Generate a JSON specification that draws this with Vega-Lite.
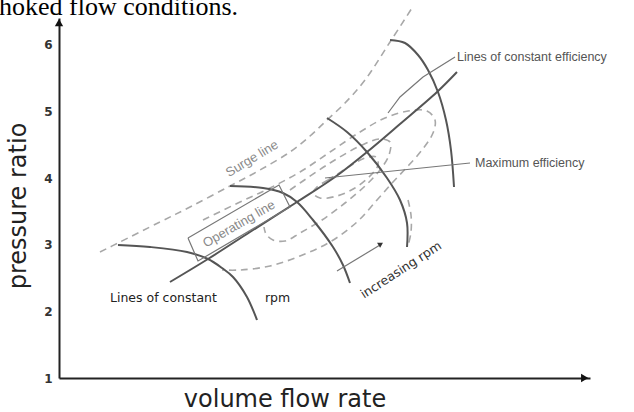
{
  "$schema": "https://vega.github.io/schema/vega-lite/v6.json",
  "width": 531,
  "height": 360,
  "autosize": {"type": "none"},
  "padding": {"left": 59, "top": 18, "right": 44, "bottom": 34},
  "background": "white",
  "config": {"view": {"stroke": null}},
  "datasets": {
    "dashed": [
      {"s": "surge", "i": 0, "x": 0.772, "y": 2.89},
      {"s": "surge", "i": 1, "x": 1.111, "y": 3.025},
      {"s": "surge", "i": 2, "x": 1.902, "y": 3.34},
      {"s": "surge", "i": 3, "x": 2.467, "y": 3.565},
      {"s": "surge", "i": 4, "x": 3.22, "y": 3.88},
      {"s": "surge", "i": 5, "x": 3.785, "y": 4.12},
      {"s": "surge", "i": 6, "x": 4.35, "y": 4.39},
      {"s": "surge", "i": 7, "x": 4.727, "y": 4.63},
      {"s": "surge", "i": 8, "x": 5.047, "y": 4.87},
      {"s": "surge", "i": 9, "x": 5.386, "y": 5.125},
      {"s": "surge", "i": 10, "x": 5.763, "y": 5.47},
      {"s": "surge", "i": 11, "x": 6.234, "y": 6.04},
      {"s": "surge", "i": 12, "x": 6.648, "y": 6.55},
      {"s": "cA", "i": 0, "x": 2.712, "y": 3.37},
      {"s": "cA", "i": 1, "x": 3.409, "y": 3.64},
      {"s": "cA", "i": 2, "x": 3.974, "y": 3.85},
      {"s": "cA", "i": 3, "x": 4.539, "y": 4.09},
      {"s": "cA", "i": 4, "x": 5.104, "y": 4.39},
      {"s": "cA", "i": 5, "x": 5.669, "y": 4.69},
      {"s": "cA", "i": 6, "x": 6.139, "y": 4.9},
      {"s": "cA", "i": 7, "x": 6.573, "y": 5.005},
      {"s": "cA", "i": 8, "x": 6.93, "y": 5.005},
      {"s": "cA", "i": 9, "x": 7.081, "y": 4.87},
      {"s": "cA", "i": 10, "x": 7.043, "y": 4.675},
      {"s": "cA", "i": 11, "x": 6.836, "y": 4.42},
      {"s": "cA", "i": 12, "x": 6.573, "y": 4.18},
      {"s": "cA", "i": 13, "x": 6.29, "y": 3.94},
      {"s": "cA", "i": 14, "x": 5.989, "y": 3.67},
      {"s": "cA", "i": 15, "x": 5.612, "y": 3.34},
      {"s": "cA", "i": 16, "x": 5.104, "y": 3.04},
      {"s": "cA", "i": 17, "x": 4.539, "y": 2.83},
      {"s": "cA", "i": 18, "x": 3.974, "y": 2.68},
      {"s": "cA", "i": 19, "x": 3.409, "y": 2.62},
      {"s": "cA", "i": 20, "x": 3.07, "y": 2.62},
      {"s": "cB", "i": 0, "x": 4.35, "y": 3.82},
      {"s": "cB", "i": 1, "x": 4.539, "y": 3.925},
      {"s": "cB", "i": 2, "x": 5.104, "y": 4.225},
      {"s": "cB", "i": 3, "x": 5.669, "y": 4.48},
      {"s": "cB", "i": 4, "x": 6.045, "y": 4.585},
      {"s": "cB", "i": 5, "x": 6.234, "y": 4.54},
      {"s": "cB", "i": 6, "x": 6.215, "y": 4.345},
      {"s": "cB", "i": 7, "x": 6.045, "y": 4.12},
      {"s": "cB", "i": 8, "x": 5.763, "y": 3.88},
      {"s": "cB", "i": 9, "x": 5.386, "y": 3.625},
      {"s": "cB", "i": 10, "x": 4.953, "y": 3.37},
      {"s": "cB", "i": 11, "x": 4.539, "y": 3.175},
      {"s": "cB", "i": 12, "x": 4.256, "y": 3.055},
      {"s": "cB", "i": 13, "x": 4.03, "y": 3.07},
      {"s": "cB", "i": 14, "x": 3.898, "y": 3.16},
      {"s": "cB", "i": 15, "x": 3.861, "y": 3.265},
      {"s": "cC", "i": 0, "x": 5.066, "y": 3.97},
      {"s": "cC", "i": 1, "x": 4.859, "y": 3.865},
      {"s": "cC", "i": 2, "x": 4.783, "y": 3.775},
      {"s": "cC", "i": 3, "x": 4.915, "y": 3.7},
      {"s": "cC", "i": 4, "x": 5.235, "y": 3.73},
      {"s": "cC", "i": 5, "x": 5.574, "y": 3.85},
      {"s": "cC", "i": 6, "x": 5.857, "y": 4.03},
      {"s": "cC", "i": 7, "x": 6.008, "y": 4.195},
      {"s": "cC", "i": 8, "x": 5.97, "y": 4.315},
      {"s": "cC", "i": 9, "x": 5.763, "y": 4.3},
      {"s": "cC", "i": 10, "x": 5.48, "y": 4.18},
      {"s": "cC", "i": 11, "x": 5.217, "y": 4.045},
      {"s": "cC", "i": 12, "x": 5.066, "y": 3.97},
      {"s": "choke", "i": 0, "x": 6.573, "y": 3.67},
      {"s": "choke", "i": 1, "x": 6.629, "y": 3.445},
      {"s": "choke", "i": 2, "x": 6.629, "y": 3.19},
      {"s": "choke", "i": 3, "x": 6.573, "y": 2.98}
    ],
    "solid": [
      {"s": "rpm1", "i": 0, "x": 1.111, "y": 2.995},
      {"s": "rpm1", "i": 1, "x": 1.714, "y": 2.965},
      {"s": "rpm1", "i": 2, "x": 2.411, "y": 2.89},
      {"s": "rpm1", "i": 3, "x": 2.806, "y": 2.785},
      {"s": "rpm1", "i": 4, "x": 3.07, "y": 2.65},
      {"s": "rpm1", "i": 5, "x": 3.277, "y": 2.515},
      {"s": "rpm1", "i": 6, "x": 3.54, "y": 2.215},
      {"s": "rpm1", "i": 7, "x": 3.729, "y": 1.87},
      {"s": "rpm2", "i": 0, "x": 3.22, "y": 3.88},
      {"s": "rpm2", "i": 1, "x": 3.842, "y": 3.85},
      {"s": "rpm2", "i": 2, "x": 4.218, "y": 3.775},
      {"s": "rpm2", "i": 3, "x": 4.482, "y": 3.64},
      {"s": "rpm2", "i": 4, "x": 4.783, "y": 3.37},
      {"s": "rpm2", "i": 5, "x": 5.16, "y": 2.965},
      {"s": "rpm2", "i": 6, "x": 5.348, "y": 2.695},
      {"s": "rpm2", "i": 7, "x": 5.48, "y": 2.425},
      {"s": "rpm3", "i": 0, "x": 5.047, "y": 4.9},
      {"s": "rpm3", "i": 1, "x": 5.424, "y": 4.69},
      {"s": "rpm3", "i": 2, "x": 5.8, "y": 4.39},
      {"s": "rpm3", "i": 3, "x": 6.177, "y": 4.0},
      {"s": "rpm3", "i": 4, "x": 6.422, "y": 3.67},
      {"s": "rpm3", "i": 5, "x": 6.554, "y": 3.325},
      {"s": "rpm3", "i": 6, "x": 6.554, "y": 2.965},
      {"s": "rpm4", "i": 0, "x": 6.234, "y": 6.07},
      {"s": "rpm4", "i": 1, "x": 6.516, "y": 6.025},
      {"s": "rpm4", "i": 2, "x": 6.761, "y": 5.845},
      {"s": "rpm4", "i": 3, "x": 6.949, "y": 5.62},
      {"s": "rpm4", "i": 4, "x": 7.137, "y": 5.29},
      {"s": "rpm4", "i": 5, "x": 7.288, "y": 4.87},
      {"s": "rpm4", "i": 6, "x": 7.382, "y": 4.42},
      {"s": "rpm4", "i": 7, "x": 7.439, "y": 3.865},
      {"s": "op", "i": 0, "x": 2.09, "y": 2.44},
      {"s": "op", "i": 1, "x": 2.806, "y": 2.785},
      {"s": "op", "i": 2, "x": 3.597, "y": 3.19},
      {"s": "op", "i": 3, "x": 4.482, "y": 3.64},
      {"s": "op", "i": 4, "x": 5.198, "y": 4.015},
      {"s": "op", "i": 5, "x": 5.8, "y": 4.39},
      {"s": "op", "i": 6, "x": 6.422, "y": 4.81},
      {"s": "op", "i": 7, "x": 7.119, "y": 5.29},
      {"s": "op", "i": 8, "x": 7.495, "y": 5.59}
    ],
    "thin": [
      {"s": "box", "i": 0, "x": 2.429, "y": 3.1},
      {"s": "box", "i": 1, "x": 2.618, "y": 2.755},
      {"s": "box", "i": 2, "x": 4.35, "y": 3.565},
      {"s": "box", "i": 3, "x": 4.143, "y": 3.895},
      {"s": "box", "i": 4, "x": 2.429, "y": 3.1},
      {"s": "p1", "i": 0, "x": 7.458, "y": 5.815},
      {"s": "p1", "i": 1, "x": 6.855, "y": 5.515},
      {"s": "p1", "i": 2, "x": 6.422, "y": 5.215},
      {"s": "p1", "i": 3, "x": 6.196, "y": 4.975},
      {"s": "p2", "i": 0, "x": 7.74, "y": 4.225},
      {"s": "p2", "i": 1, "x": 5.009, "y": 4.0},
      {"s": "arr", "i": 0, "x": 5.235, "y": 2.605},
      {"s": "arr", "i": 1, "x": 6.045, "y": 2.995}
    ]
  },
  "encoding": {
    "x": {"field": "x", "type": "quantitative",
      "scale": {"domain": [0, 10], "nice": false, "zero": false},
      "axis": {"domain": true, "domainColor": "#222", "domainWidth": 2, "labels": false, "ticks": false, "tickSize": 0, "grid": false, "title": null}},
    "y": {"field": "y", "type": "quantitative",
      "scale": {"domain": [1, 6.4], "nice": false, "zero": false},
      "axis": {"values": [1, 2, 3, 4, 5, 6], "domainColor": "#222", "domainWidth": 2, "ticks": false, "tickSize": 0, "grid": false, "title": null,
        "labelFont": "DejaVu Sans", "labelFontSize": 12, "labelFontWeight": "bold", "labelColor": "#333", "labelPadding": 7}}
  },
  "layer": [
    {"data": {"name": "dashed"},
     "mark": {"type": "line", "strokeDash": [7, 5], "color": "#a8a8a8", "strokeWidth": 1.6, "interpolate": "catmull-rom"},
     "encoding": {"detail": {"field": "s"}, "order": {"field": "i"}}},
    {"data": {"name": "solid"},
     "mark": {"type": "line", "color": "#555", "strokeWidth": 2, "interpolate": "catmull-rom"},
     "encoding": {"detail": {"field": "s"}, "order": {"field": "i"}}},
    {"data": {"name": "thin"},
     "mark": {"type": "line", "color": "#777", "strokeWidth": 1.2, "interpolate": "linear"},
     "encoding": {"detail": {"field": "s"}, "order": {"field": "i"}}},
    {"data": {"values": [{"x": 0, "y": 6.33}]},
     "mark": {"type": "point", "shape": "triangle-up", "filled": true, "color": "#111", "opacity": 1, "size": 70}},
    {"data": {"values": [{"x": 9.9, "y": 1}]},
     "mark": {"type": "point", "shape": "triangle-right", "filled": true, "color": "#111", "opacity": 1, "size": 70}},
    {"data": {"values": [{"x": 6.06, "y": 3.01}]},
     "mark": {"type": "point", "shape": "triangle-right", "filled": true, "color": "#333", "opacity": 1, "size": 35, "angle": -31}},
    {"data": {"values": [{"t": "hoked flow conditions.", "x": -1.13, "y": 6.445}]},
     "mark": {"type": "text", "font": "Liberation Serif", "fontSize": 26, "color": "#000", "align": "left", "baseline": "alphabetic"},
     "encoding": {"text": {"field": "t"}}},
    {"data": {"values": [{"t": "pressure ratio", "x": -0.621, "y": 3.58}]},
     "mark": {"type": "text", "font": "DejaVu Sans", "fontSize": 24, "color": "#222", "align": "center", "baseline": "alphabetic", "angle": 270},
     "encoding": {"text": {"field": "t"}}},
    {"data": {"values": [{"t": "volume flow rate", "x": 4.256, "y": 0.56}]},
     "mark": {"type": "text", "font": "DejaVu Sans", "fontSize": 24, "color": "#222", "align": "center", "baseline": "alphabetic"},
     "encoding": {"text": {"field": "t"}}},
    {"data": {"values": [{"t": "Surge line", "x": 3.635, "y": 4.29}]},
     "mark": {"type": "text", "font": "Liberation Sans", "fontSize": 13, "color": "#8a8a8a", "align": "center", "baseline": "middle", "angle": -31},
     "encoding": {"text": {"field": "t"}}},
    {"data": {"values": [{"t": "Operating line", "x": 3.39, "y": 3.31}]},
     "mark": {"type": "text", "font": "Liberation Sans", "fontSize": 13, "color": "#888", "align": "center", "baseline": "middle", "angle": -30},
     "encoding": {"text": {"field": "t"}}},
    {"data": {"values": [{"t": "Lines of constant", "x": 0.96, "y": 2.14}, {"t": "rpm", "x": 3.879, "y": 2.14}]},
     "mark": {"type": "text", "font": "DejaVu Sans", "fontSize": 12.5, "color": "#222", "align": "left", "baseline": "alphabetic"},
     "encoding": {"text": {"field": "t"}}},
    {"data": {"values": [{"t": "increasing rpm", "x": 6.441, "y": 2.62}]},
     "mark": {"type": "text", "font": "DejaVu Sans", "fontSize": 12.5, "color": "#333", "align": "center", "baseline": "middle", "angle": -33},
     "encoding": {"text": {"field": "t"}}},
    {"data": {"values": [{"t": "Lines of constant efficiency", "x": 7.495, "y": 5.755}, {"t": "Maximum efficiency", "x": 7.834, "y": 4.165}]},
     "mark": {"type": "text", "font": "Liberation Sans", "fontSize": 12.5, "color": "#555", "align": "left", "baseline": "alphabetic"},
     "encoding": {"text": {"field": "t"}}}
  ]
}
